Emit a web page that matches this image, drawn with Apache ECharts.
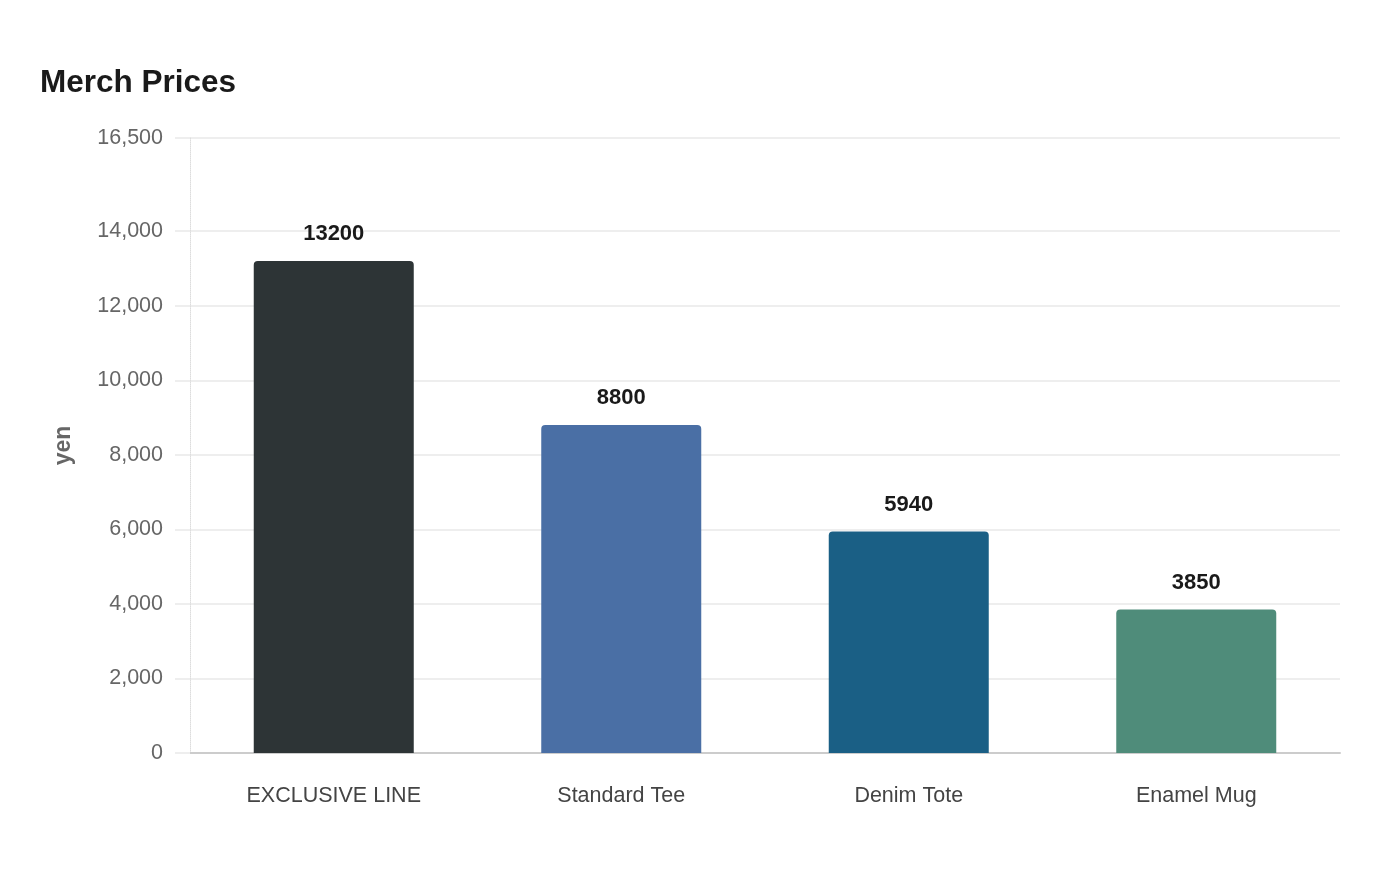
<!DOCTYPE html>
<html>
<head>
<meta charset="utf-8">
<script src="https://cdn.jsdelivr.net/npm/echarts@6/dist/echarts.min.js"></script>
<style>html,body{margin:0;padding:0;background:#fff}#c{width:1400px;height:880px}</style>
</head>
<body>
<div id="c"></div>
<script>
const categories = ['EXCLUSIVE LINE', 'Standard Tee', 'Denim Tote', 'Enamel Mug'];
const values = [13200, 8800, 5940, 3850];
const barColors = ['#2d3436', '#4a6fa5', '#1a5f85', '#4f8c7a'];
const yTicks = [0, 2000, 4000, 6000, 8000, 10000, 12000, 14000, 16500];

const chart = echarts.init(document.getElementById('c'));
chart.setOption({
  backgroundColor: '#fff',
  animation: false,
  title: {
    text: 'Merch Prices',
    left: 35, top: 62,
    textStyle: { fontFamily: 'Liberation Sans', fontSize: 31.5, fontWeight: 'bold', color: '#1a1a1a' }
  },
  grid: { left: 190, right: 60, top: 138, bottom: 127 },
  xAxis: {
    type: 'category',
    data: categories,
    axisLine: { lineStyle: { color: '#cccccc', width: 2 } },
    axisTick: { show: false },
    axisLabel: { fontFamily: 'Liberation Sans', fontSize: 21.5, color: '#444', margin: 32 }
  },
  yAxis: {
    type: 'value',
    min: 0, max: 16500,
    name: 'yen',
    nameLocation: 'middle',
    nameGap: 115,
    nameTextStyle: { fontFamily: 'Liberation Sans', fontSize: 23, fontWeight: 'bold', color: '#666' },
    axisLine: { show: true, lineStyle: { color: '#dddddd', type: 'dotted' } },
    axisTick: { show: true, length: 15, customValues: yTicks, lineStyle: { color: '#eeeeee', width: 2 } },
    splitLine: { lineStyle: { color: '#eeeeee', width: 2 } },
    axisLabel: {
      fontFamily: 'Liberation Sans', fontSize: 21.5, color: '#666', margin: 27,
      padding: [4, 0, 0, 0],
      customValues: yTicks,
      formatter: v => v.toLocaleString('en-US')
    }
  },
  series: [{
    type: 'bar',
    data: values.map((v, i) => ({ value: v, itemStyle: { color: barColors[i] } })),
    barWidth: 160,
    itemStyle: { borderRadius: [4, 4, 0, 0] },
    label: {
      show: true, position: 'top', distance: 16,
      fontFamily: 'Liberation Sans', fontSize: 22, fontWeight: 'bold', color: '#1a1a1a'
    }
  }]
});
</script>
</body>
</html>
